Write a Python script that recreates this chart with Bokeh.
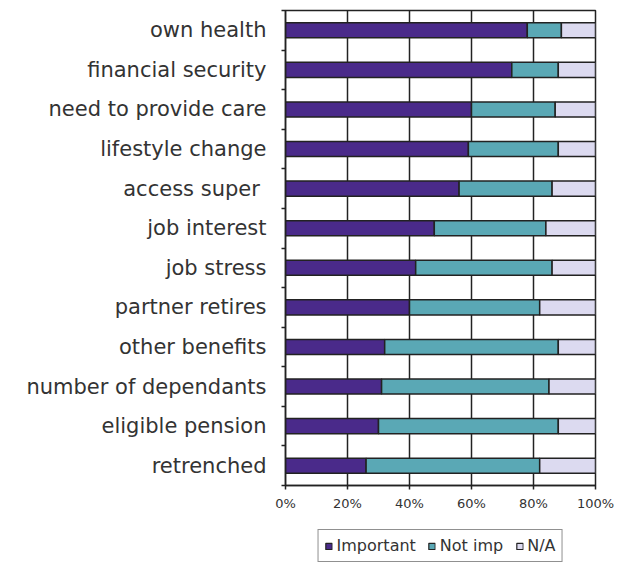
from bokeh.plotting import figure
from bokeh.models import ColumnDataSource, FixedTicker, PrintfTickFormatter, Legend, Range1d
from bokeh.layouts import column
from bokeh.embed import file_html
from bokeh.resources import INLINE

categories = ["own health", "financial security", "need to provide care", "lifestyle change",
              "access super ", "job interest", "job stress", "partner retires",
              "other benefits", "number of dependants", "eligible pension", "retrenched"]
important = [78, 73, 60, 59, 56, 48, 42, 40, 32, 31, 30, 26]
not_imp = [11, 15, 27, 29, 30, 36, 44, 42, 56, 54, 58, 56]
na = [11, 12, 13, 12, 14, 16, 14, 18, 12, 15, 12, 18]
series_names = ["Important", "Not imp", "N/A"]
x_ticks = [0, 20, 40, 60, 80, 100]

n = len(categories)
ypos = [n - i for i in range(n)]
src = ColumnDataSource(dict(y=ypos, Important=important, NotImp=not_imp, NA=na))

p = figure(width=630, height=520, output_backend="svg", toolbar_location=None,
           x_range=Range1d(0, 100), y_range=Range1d(0.5, n + 0.5),
           min_border_left=285, min_border_right=35, min_border_top=10, min_border_bottom=35)

colors = ["#4a2a8a", "#5aa8b5", "#dcdaf0"]
rs = p.hbar_stack(["Important", "NotImp", "NA"], y="y", height=0.38, color=colors,
                  line_color="#222222", line_width=1.5, source=src)

p.xgrid.ticker = FixedTicker(ticks=x_ticks)
p.xgrid.grid_line_color = "#222222"
p.xgrid.grid_line_width = 1.5
p.ygrid.grid_line_color = None
p.outline_line_color = "#222222"
p.outline_line_width = 1.5
p.background_fill_color = "white"

xa = p.xaxis[0]
xa.ticker = FixedTicker(ticks=x_ticks)
xa.formatter = PrintfTickFormatter(format="%d%%")
xa.major_tick_out = 4
xa.major_tick_in = 0
xa.minor_tick_line_color = None
xa.axis_line_width = 1.5
xa.major_tick_line_width = 1.5
xa.axis_line_color = "#222222"
xa.major_tick_line_color = "#222222"
xa.major_label_text_font = "DejaVu Sans"
xa.major_label_text_font_size = "13px"
xa.major_label_text_color = "#333333"
xa.major_label_standoff = 6

ya = p.yaxis[0]
ya.ticker = FixedTicker(ticks=ypos, minor_ticks=[k + 0.5 for k in range(n + 1)])
ya.major_label_overrides = {ypos[i]: categories[i] for i in range(n)}
ya.major_tick_out = 0
ya.major_tick_in = 0
ya.minor_tick_out = 4
ya.minor_tick_in = 0
ya.minor_tick_line_color = "#222222"
ya.minor_tick_line_width = 1.5
ya.axis_line_width = 1.5
ya.axis_line_color = "#222222"
ya.major_label_text_font = "DejaVu Sans"
ya.major_label_text_font_size = "21px"
ya.major_label_text_color = "#333333"
ya.major_label_standoff = 15

# legend strip below the chart (swatch renderers sit outside the visible range)
lf = figure(width=630, height=42, output_backend="svg", toolbar_location=None,
            x_range=Range1d(0, 1), y_range=Range1d(0, 1),
            x_axis_location=None, y_axis_location=None,
            min_border_left=258, min_border_right=0,
            min_border_top=0, min_border_bottom=0)
lf.grid.visible = False
lf.outline_line_color = None
dummies = [lf.hbar(y=[-10], left=[-10], right=[-9], height=0.5, fill_color=c,
                   line_color="#222222", line_width=1.2)
           for c in colors]
legend = Legend(items=[(series_names[i], [dummies[i]]) for i in range(3)],
                orientation="horizontal", location="bottom_center",
                label_text_font="DejaVu Sans", label_text_font_size="16px",
                label_text_color="#333333", glyph_width=8, glyph_height=8,
                label_standoff=4, spacing=12, padding=6, margin=0,
                border_line_color="#222222", border_line_width=1.5,
                background_fill_color="white")
lf.add_layout(legend, "center")

layout = column(p, lf, spacing=0)
open("out.html", "w").write(file_html(layout, INLINE))
